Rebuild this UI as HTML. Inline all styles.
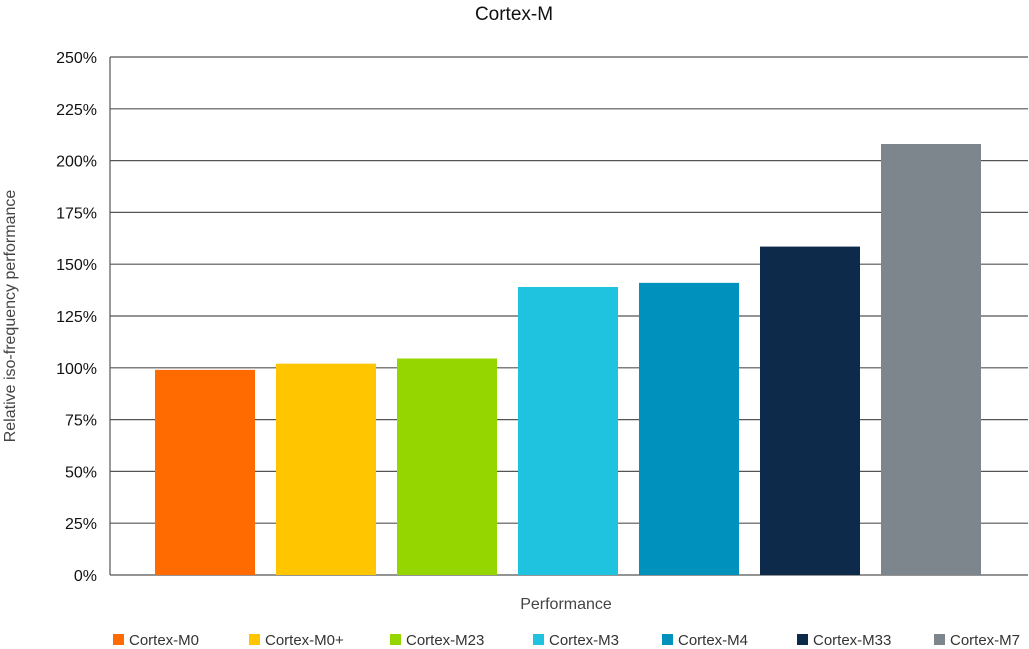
<!DOCTYPE html>
<html><head><meta charset="utf-8"><style>
html,body{margin:0;padding:0;background:#fff;}
svg{display:block;font-family:"Liberation Sans",sans-serif;}
</style></head><body>
<svg id="chart" width="1029" height="649"></svg>
<script>
const categories=["Cortex-M0","Cortex-M0+","Cortex-M23","Cortex-M3","Cortex-M4","Cortex-M33","Cortex-M7"];
const values=[99,102,104.5,139,141,158.5,208];
const colors=["#ff6b00","#ffc600","#95d600","#20c3df","#0091bd","#0e2a4a","#7d868c"];
const tickValues=[0,25,50,75,100,125,150,175,200,225,250];
const legendX=[113,249,390,533,662,797,934];
const NS="http://www.w3.org/2000/svg";
const svg=document.getElementById('chart');
const top0=57,bot0=575,left0=110,right0=1028;
const y=v=>bot0-(v/250)*(bot0-top0);
const bandStart=144.5,band=121,barW=100;
const x=i=>bandStart+i*band+(band-barW)/2;
function mk(tag,attrs,parent){const e=document.createElementNS(NS,tag);for(const k in attrs)e.setAttribute(k,attrs[k]);(parent||svg).appendChild(e);return e;}
const title=mk('text',{x:514,y:20,'text-anchor':'middle','font-size':19,fill:'#111'});


title.textContent='Cortex-M';
tickValues.forEach(t=>{
 const g=mk('line',{x1:left0,x2:right0,y1:y(t),y2:y(t),stroke:'#555','stroke-width':1.2});
 
 
 const l=mk('text',{x:97,y:y(t)+6,'text-anchor':'end','font-size':16,fill:'#111'});
 
 
 l.textContent=t+'%';
});
const ax=mk('line',{x1:left0,x2:left0,y1:top0,y2:bot0,stroke:'#555','stroke-width':1.2});


values.forEach((v,i)=>{
 const r=mk('rect',{x:x(i),y:y(v),width:barW,height:bot0-y(v),fill:colors[i]});
 
 
});
const yt=mk('text',{transform:'translate(15,316) rotate(-90)','text-anchor':'middle','font-size':16,fill:'#444'});


yt.textContent='Relative iso-frequency performance';
const xt=mk('text',{x:566,y:609,'text-anchor':'middle','font-size':16,fill:'#444'});


xt.textContent='Performance';
categories.forEach((c,i)=>{
 const g=mk('g',{});
 
 
 mk('rect',{x:legendX[i],y:634,width:11,height:11,fill:colors[i]},g);
 const t=mk('text',{x:legendX[i]+16,y:645,'font-size':15,fill:'#333'},g);
 t.textContent=c;
});
</script>
</body></html>
